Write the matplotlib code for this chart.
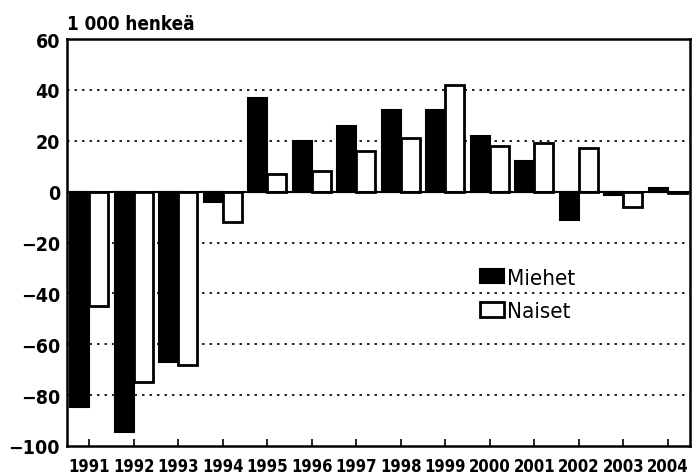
import matplotlib
matplotlib.use('Agg')
import matplotlib.pyplot as plt
import numpy as np

plt.rcParams['font.family'] = ['DejaVu Sans']
plt.rcParams['font.stretch'] = 'condensed'

years = ['1991', '1992', '1993', '1994', '1995', '1996', '1997',
         '1998', '1999', '2000', '2001', '2002', '2003', '2004']
miehet = [-84.5, -94.5, -67, -4, 37, 20, 26, 32, 32, 22, 12, -11, -1.5, 1.5]
naiset = [-45, -75, -68, -12, 7, 8, 16, 21, 42, 18, 19, 17, -6, -0.5]

x = np.arange(len(years))
w = 0.43

fig = plt.figure(figsize=(7, 4.77), dpi=100)
ax = fig.add_axes([0.0957, 0.063, 0.89, 0.853])

ax.bar(x - w / 2, miehet, w, color='black', edgecolor='black', linewidth=1.5,
       label='Miehet', zorder=3)
ax.bar(x + w / 2, naiset, w, color='white', edgecolor='black', linewidth=2,
       label='Naiset', zorder=3)

ax.set_xlim(-0.5, len(years) - 0.5)
ax.set_ylim(-100, 60)
ax.set_yticks(range(-100, 61, 20))
ax.set_yticklabels([str(v).replace('-', '\u2212') for v in range(-100, 61, 20)],
                   fontsize=14, fontweight='bold')
ax.set_xticks(x)
ax.set_xticklabels(years, fontsize=12, fontweight='bold')
ax.tick_params(axis='y', length=0, pad=5)
ax.tick_params(axis='x', direction='in', length=5, width=1.2, pad=8)

for yv in [-80, -60, -40, -20, 20, 40]:
    ax.axhline(yv, color='black', linestyle=(0, (1.5, 3)), linewidth=1.2, zorder=1)
ax.axhline(0, color='black', linewidth=1.5, zorder=4)

for s in ax.spines.values():
    s.set_linewidth(1.8)

ax.text(0.0, 1.015, '1 000 henkeä', transform=ax.transAxes, fontsize=13.5,
        fontweight='bold', ha='left', va='bottom')

ax.legend(loc='upper left', bbox_to_anchor=(0.645, 0.465), frameon=False,
          fontsize=16, handlelength=1.1, handleheight=0.65, handletextpad=0.1,
          labelspacing=0.6, borderpad=0)

fig.savefig('out.png', dpi=100)
